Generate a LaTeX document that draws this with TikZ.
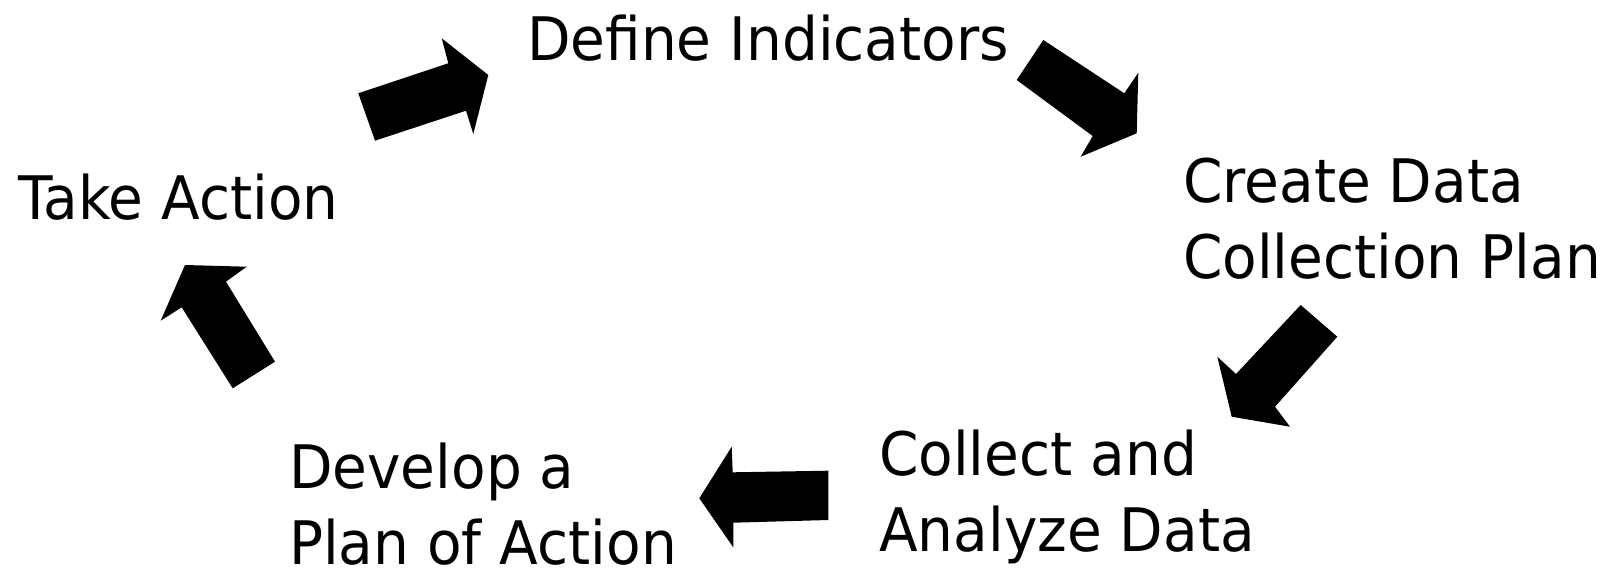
\documentclass[tikz,border=0pt]{standalone}
\usepackage{fontspec}
\setmainfont[FakeStretch=0.942]{DejaVu Sans}
\begin{document}
\begin{tikzpicture}[x=1pt,y=-1pt,
  lbl/.style={inner sep=0pt, anchor=base west, font=\fontsize{60}{76}\selectfont},
  blockarrow/.style={fill=black, draw=none}]
\useasboundingbox (0,0) rectangle (1611,570);
\node[lbl] (define) at (527,60) {Define Indicators};
\node[lbl] (take) at (18,219) {Take Action};
\node[lbl] (create) at (1183,202) {\begin{tabular}[t]{@{}l@{}}Create Data\\Collection Plan\end{tabular}};
\node[lbl] (collect) at (879,475) {\begin{tabular}[t]{@{}l@{}}Collect and\\Analyze Data\end{tabular}};
\node[lbl] (develop) at (289,488) {\begin{tabular}[t]{@{}l@{}}Develop a\\Plan of Action\end{tabular}};
% block arrows
\fill[blockarrow] (358.3,93.3) -- (448.3,63.3) -- (441.7,38.3) -- (488.3,75) -- (473.3,134) -- (466,110.7) -- (375,140.7) -- cycle;
\fill[blockarrow] (1043.3,40) -- (1124.3,93.3) -- (1138.3,72.7) -- (1136.7,133.3) -- (1080.7,156.7) -- (1092.7,136) -- (1016.7,80) -- cycle;
\fill[blockarrow] (1300.7,305) -- (1337.3,336.7) -- (1275,406.7) -- (1290,426.7) -- (1231.7,416.7) -- (1217.3,356.7) -- (1236,374) -- cycle;
\fill[blockarrow] (828.3,470.7) -- (828.3,520) -- (733.3,522.7) -- (733.3,547.3) -- (699.3,498.3) -- (731.7,446.7) -- (732.7,472.3) -- cycle;
\fill[blockarrow] (232.7,388.3) -- (275,361.7) -- (226,281.7) -- (246.7,266.7) -- (185,265) -- (160.7,320.7) -- (181.7,307.3) -- cycle;
\end{tikzpicture}
\end{document}
